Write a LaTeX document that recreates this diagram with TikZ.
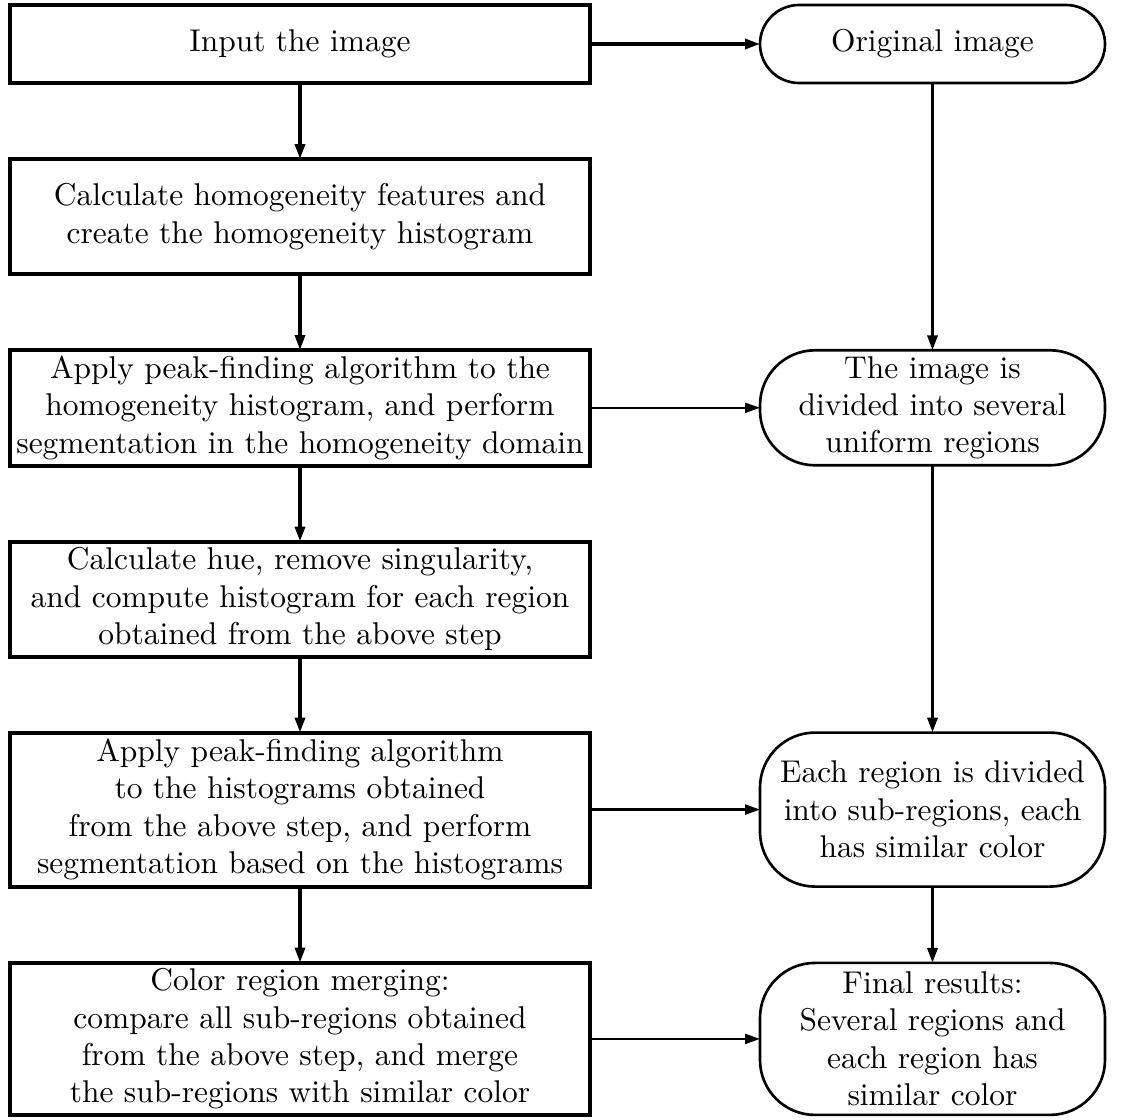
\documentclass[tikz,border=0pt]{standalone}
\usepackage{fontspec}
\setmainfont{lmroman10-regular.otf}
\usetikzlibrary{positioning,arrows.meta}

\begin{document}
\begin{tikzpicture}[font=\fontsize{17.9}{21.3}\selectfont, outer sep=0pt,
      >={Triangle[length=3mm,width=2mm]},
      stepbox/.style={draw=black, line width=2.2pt, minimum width=11.6cm, align=center},
      resultbox/.style={draw=black, line width=1.5pt, minimum width=6.9cm, rounded corners=1.1cm, align=center}]
      \useasboundingbox (0,0) rectangle (22.42,-22.4);

      \node[stepbox, minimum height=1.56cm, name=input] at (6.0,-0.88) {Input the image};
      \node[stepbox, minimum height=2.3cm, name=homog, below=1.52cm of input] {Calculate homogeneity features and\\create the homogeneity histogram};
      \node[stepbox, minimum height=2.3cm, name=peak, below=1.52cm of homog] {Apply peak-finding algorithm to the\\homogeneity histogram, and perform\\segmentation in the homogeneity domain};
      \node[stepbox, minimum height=2.3cm, name=hue, below=1.52cm of peak] {Calculate hue, remove singularity,\\and compute histogram for each region\\obtained from the above step};
      \node[stepbox, minimum height=3.08cm, name=peakhue, below=1.52cm of hue] {Apply peak-finding algorithm\\to the histograms obtained\\from the above step, and perform\\segmentation based on the histograms};
      \node[stepbox, minimum height=3.04cm, name=merge, below=1.52cm of peakhue] {Color region merging:\\compare all sub-regions obtained\\from the above step, and merge\\the sub-regions with similar color};

      % results column
      \node[resultbox, rounded corners=0.78cm, minimum height=1.56cm, name=orig, right=3.4cm of input] {Original image};
      \node[resultbox, minimum height=2.3cm, name=uniform] at (peak -| orig) {The image is\\divided into several\\uniform regions};
      \node[resultbox, minimum height=3.08cm, name=subreg] at (peakhue -| orig) {Each region is divided\\into sub-regions, each\\has similar color};
      \node[resultbox, minimum height=3.04cm, name=final] at (merge -| orig) {Final results:\\Several regions and\\each region has\\similar color};

      \path[->, line width=1.9pt]
         (input) edge (homog)
         (homog) edge (peak)
         (peak) edge (hue)
         (hue) edge (peakhue)
         (peakhue) edge (merge)
         (input) edge (orig)
         (orig) edge (uniform)
         (uniform) edge (subreg)
         (subreg) edge (final);
      \path[->, line width=1.3pt]
         (peak) edge (uniform)
         (peakhue) edge (subreg)
         (merge) edge (final);
   \end{tikzpicture}
\end{document}
